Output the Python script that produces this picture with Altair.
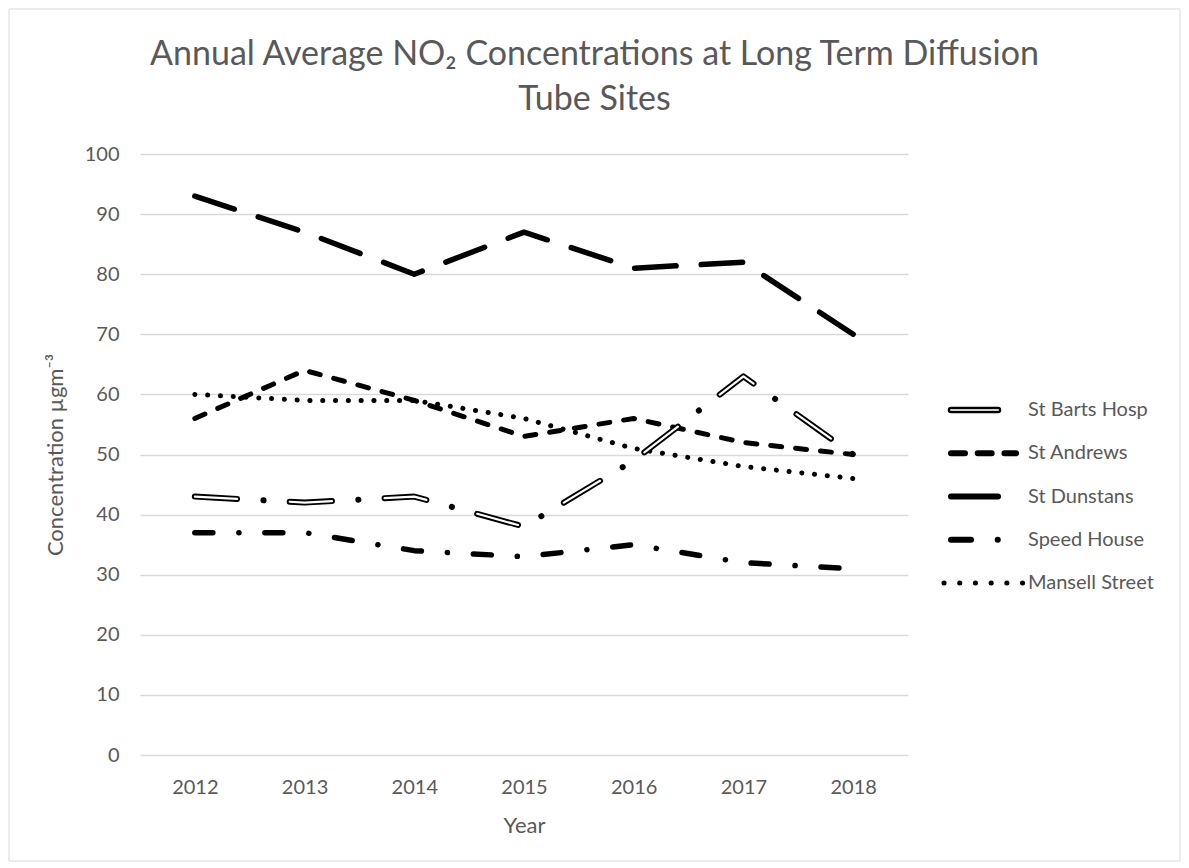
import altair as alt
import pandas as pd

# ---- data ----
years = ["2012", "2013", "2014", "2015", "2016", "2017", "2018"]
series_names = ["St Barts Hosp", "St Andrews", "St Dunstans", "Speed House", "Mansell Street"]
st_barts = [43, 42, 43, 38, 49, 63, 50]
st_andrews = [56, 64, 59, 53, 56, 52, 50]
st_dunstans = [93, 87, 80, 87, 81, 82, 70]
speed_house = [37, 37, 34, 33, 35, 32, 31]
mansell_street = [60, 59, 59, 56, 51, 48, 46]
y_ticks = [0, 10, 20, 30, 40, 50, 60, 70, 80, 90, 100]

values_by_series = {
    "St Barts Hosp": st_barts,
    "St Andrews": st_andrews,
    "St Dunstans": st_dunstans,
    "Speed House": speed_house,
    "Mansell Street": mansell_street,
}
rows = []
for name in series_names:
    for yr, v in zip(years, values_by_series[name]):
        rows.append({"Series": name, "Year": yr, "Value": v})
df = pd.DataFrame(rows)
legend_df = pd.DataFrame({"Series": series_names})

FONT = "Lato"
GREY = "#595959"

X = alt.X("Year:O", sort=years,
          scale=alt.Scale(type="point", padding=0.5),
          axis=alt.Axis(title="Year", labelAngle=0, ticks=False, domain=False, grid=False,
                        labelPadding=22, titlePadding=18))
Y = alt.Y("Value:Q", scale=alt.Scale(domain=[0, 100], nice=False),
          axis=alt.Axis(title="Concentration µgm⁻³", values=y_ticks, grid=True, gridColor="#d9d9d9",
                        gridWidth=1.3, ticks=False, domain=False, labelPadding=21, titlePadding=17))


def series_line(name, width, dash, color="black"):
    return alt.Chart(df).transform_filter(alt.datum.Series == name).mark_line(
        stroke=color, strokeWidth=width, strokeDash=dash, strokeCap="round", strokeJoin="round"
    ).encode(x=X, y=Y)


main = alt.layer(
    series_line("Mansell Street", 5, [0.1, 12.7]),
    series_line("Speed House", 5.5, [18, 26, 0.1, 25.9]),
    series_line("St Dunstans", 5.5, [41.5, 25.2]),
    series_line("St Andrews", 5, [11, 14]),
    series_line("St Barts Hosp", 6, [42.3, 26.4, 0.1, 26.2]),
    series_line("St Barts Hosp", 2.2, [42.3, 52.7], color="white"),
)

YL = alt.Y("Series:N", scale=alt.Scale(type="point", domain=series_names, range=[256, 429], padding=0),
           axis=None)


def legend_rule(name, x1, x2, width, dash=None, color="black"):
    kw = dict(stroke=color, strokeWidth=width, strokeCap="round")
    if dash is not None:
        kw["strokeDash"] = dash
    return alt.Chart(legend_df).transform_filter(alt.datum.Series == name).mark_rule(**kw).encode(
        x=alt.value(x1), x2=alt.value(x2), y=YL)


legend = alt.layer(
    legend_rule("St Barts Hosp", 811, 858, 6.5),
    legend_rule("St Barts Hosp", 811, 858, 2.2, color="#cfcfcf"),
    legend_rule("St Andrews", 811, 876, 6, [14, 12.7]),
    legend_rule("St Dunstans", 811, 858, 6),
    legend_rule("Speed House", 811, 858, 6, [20, 26.7, 0.1, 100]),
    legend_rule("Mansell Street", 804, 883, 5, [0.1, 15.6]),
    alt.Chart(legend_df).mark_text(align="left", baseline="middle", font=FONT, fontSize=20, color=GREY)
    .encode(x=alt.value(888), y=YL, text="Series:N"),
)

border = alt.Chart(pd.DataFrame({"k": [0]})).mark_rect(filled=False, color="#d9d9d9", strokeWidth=1).encode(
    x=alt.value(-131), x2=alt.value(1040), y=alt.value(-145), y2=alt.value(707))

chart = alt.layer(main, legend, border).resolve_scale(y="independent").properties(
    width=768, height=601, padding=0, background="white",
    title=alt.TitleParams(
        text=["Annual Average NO₂ Concentrations at Long Term Diffusion", "Tube Sites"],
        font=FONT, fontSize=34, fontWeight="normal", color=GREY, anchor="middle", frame="bounds",
        lineHeight=45, offset=-108),
).configure_view(stroke=None).configure_axis(
    labelFont=FONT, labelFontSize=20, labelColor=GREY,
    titleFont=FONT, titleFontSize=22, titleColor=GREY, titleFontWeight="normal",
)

chart.save("out.html", embed_options={"renderer": "svg", "actions": False})
